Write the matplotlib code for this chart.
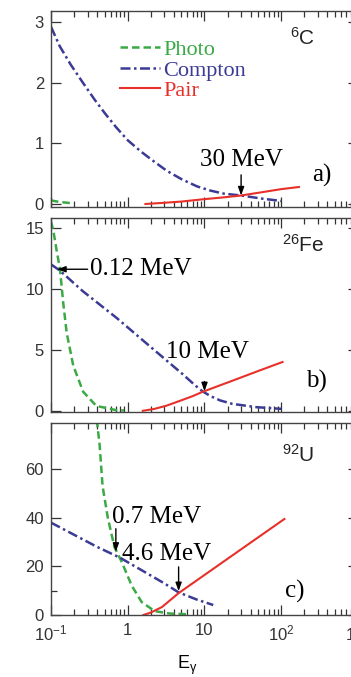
import matplotlib
matplotlib.use('Agg')
import matplotlib.pyplot as plt
import numpy as np
from matplotlib.ticker import LogLocator, NullFormatter, FixedLocator

plt.rcParams['font.family'] = ['Liberation Sans', 'DejaVu Sans']

# cross sections (barn/atom) vs photon energy (MeV)
# carbon
c_photo_e = [0.1, 0.12, 0.15, 0.18]
c_photo_s = [0.06, 0.04, 0.025, 0.015]
c_compton_e = [0.1, 0.13, 0.18, 0.26, 0.37, 0.5, 0.7, 1.0, 1.5, 2.2, 3.2, 5, 8, 12, 18, 30, 55, 100]
c_compton_s = [2.92, 2.6, 2.3, 2.0, 1.72, 1.5, 1.27, 1.05, 0.86, 0.7, 0.55, 0.41, 0.29, 0.22, 0.17, 0.14, 0.09, 0.05]
c_pair_e = [1.7, 3, 5, 10, 18, 30, 60, 100, 170]
c_pair_s = [0, 0.02, 0.04, 0.08, 0.11, 0.14, 0.2, 0.245, 0.28]

# iron
fe_photo_e = [0.1, 0.107, 0.118, 0.131, 0.144, 0.16, 0.195, 0.263, 0.39, 0.71, 0.9]
fe_photo_s = [15.5, 14.8, 13.2, 11.6, 8.9, 6.4, 3.7, 1.55, 0.4, 0.05, 0.03]
fe_compton_e = [0.1, 0.13, 0.26, 0.72, 1.93, 5.2, 7.5, 9.4, 12, 16, 23, 47, 100]
fe_compton_s = [12.0, 11.5, 9.8, 7.6, 5.3, 3.0, 2.1, 1.6, 1.2, 0.85, 0.57, 0.3, 0.16]
fe_pair_e = [1.57, 2.2, 3.2, 5.2, 7.0, 9.4, 23, 50, 104]
fe_pair_s = [0, 0.15, 0.42, 0.9, 1.2, 1.55, 2.46, 3.26, 4.0]

# uranium
u_photo_e = [0.38, 0.43, 0.47, 0.55, 0.67, 0.83, 1.13, 1.52, 2.24, 3.5, 6.0]
u_photo_s = [85, 70, 53, 40, 28, 22, 12, 5.3, 1.6, 0.6, 0.3]
u_compton_e = [0.1, 0.2, 0.4, 0.8, 1.6, 3.0, 4.6, 8.0, 13]
u_compton_s = [38, 33, 28, 23.5, 18, 13, 9.3, 6.3, 4.1]
u_pair_e = [1.6, 2.0, 2.8, 4.6, 14, 38, 110]
u_pair_s = [0, 1.0, 3.3, 9.0, 19.7, 29.3, 39.5]

panels = [
    dict(photo=(c_photo_e, c_photo_s), compton=(c_compton_e, c_compton_s),
         pair=(c_pair_e, c_pair_s), ylim=(-0.05, 3.18), yticks=[0, 1, 2, 3],
         yminor=[], element=r'$\mathregular{^{6}C}$', tag='a)',
         el_pos=(0.82, 0.865), tag_pos=(0.883, 0.163)),
    dict(photo=(fe_photo_e, fe_photo_s), compton=(fe_compton_e, fe_compton_s),
         pair=(fe_pair_e, fe_pair_s), ylim=(-0.1, 15.8), yticks=[0, 5, 10, 15],
         yminor=[], element=r'$\mathregular{^{26}Fe}$', tag='b)',
         el_pos=(0.82, 0.86), tag_pos=(0.865, 0.155)),
    dict(photo=(u_photo_e, u_photo_s), compton=(u_compton_e, u_compton_s),
         pair=(u_pair_e, u_pair_s), ylim=(0, 79), yticks=[0, 20, 40, 60],
         yminor=[10], element=r'$\mathregular{^{92}U}$', tag='c)',
         el_pos=(0.805, 0.833), tag_pos=(0.795, 0.125)),
]

# arrows at the crossing energies: (panel, label, tip, tail, text position, ha)
notes = [
    (0, '30 MeV', (30, 0.14), (30, 0.48), (30, 0.73), 'center'),
    (1, '10 MeV', (10, 1.6), (10, 2.4), (10.9, 4.8), 'center'),
    (1, '0.12 MeV', (0.12, 11.6), (0.30, 11.6), (0.32, 11.6), 'left'),
    (2, '0.7 MeV', (0.7, 26), (0.7, 35.5), (0.62, 40.3), 'left'),
    (2, '4.6 MeV', (4.6, 9.8), (4.6, 19.8), (0.84, 25), 'left'),
]

green = '#3aaa45'
blue = '#3b3b95'
red = '#e8302a'
serif = dict(family='Liberation Serif', size=18)

rects = [(0.1453, 0.6942, 0.8746, 0.2895),
         (0.1453, 0.3914, 0.8746, 0.2866),
         (0.1453, 0.0916, 0.8746, 0.2836)]

fig = plt.figure(figsize=(3.51, 6.77), dpi=100)
axes = []
for i, (p, r) in enumerate(zip(panels, rects)):
    ax = fig.add_axes(r)
    axes.append(ax)
    ax.plot(*p['photo'], color=green, lw=1.8, ls=(0, (3, 1.6)), label='Photo')
    ax.plot(*p['compton'], color=blue, lw=1.8, ls=(0, (4, 1.4, 1, 1.4)), label='Compton')
    ax.plot(*p['pair'], color=red, lw=1.5, label='Pair')

    ax.set_xscale('log')
    ax.set_xlim(0.1, 1000)
    ax.set_ylim(*p['ylim'])
    ax.yaxis.set_major_locator(FixedLocator(p['yticks']))
    ax.yaxis.set_minor_locator(FixedLocator(p['yminor']))
    ax.xaxis.set_major_locator(FixedLocator([0.1, 1, 10, 100, 1000]))
    ax.xaxis.set_minor_locator(LogLocator(subs=np.arange(2, 10)))
    ax.xaxis.set_minor_formatter(NullFormatter())
    ax.tick_params(which='both', direction='in', top=True, right=True,
                   labelsize=12, width=0.9, colors='#333333', pad=5)
    ax.tick_params(which='major', length=7)
    ax.tick_params(which='minor', length=4)
    ax.tick_params(axis='x', pad=6)
    for s in ax.spines.values():
        s.set_linewidth(1.0)
        s.set_color('#444444')

    ax.text(*p['el_pos'], p['element'], transform=ax.transAxes, fontsize=15,
            ha='center', va='center', color='#222222')
    ax.text(*p['tag_pos'], p['tag'], transform=ax.transAxes, ha='center',
            va='center', **serif)

    if i < 2:
        ax.tick_params(axis='x', labelbottom=False)

axes[2].set_xticklabels([r'$\mathregular{10^{-1}}$', '1', '10',
                         r'$\mathregular{10^{2}}$', r'$\mathregular{10^{3}}$'])
axes[2].set_xlabel(r'$\mathregular{E_{γ}}$', fontsize=13)
axes[2].xaxis.set_label_coords(0.443, -0.2)

for k, label, tip, tail, pos, ha in notes:
    ax = axes[k]
    ax.annotate('', xy=tip, xytext=tail,
                arrowprops=dict(arrowstyle='-|>,head_length=0.5,head_width=0.18',
                                color='black', lw=1.0, shrinkA=0, shrinkB=0))
    ax.text(*pos, label, ha=ha, va='center', **serif)

axes[0].legend(loc='upper left', bbox_to_anchor=(0.225, 0.855), frameon=False,
               prop=dict(family='Liberation Serif', size=16), handlelength=1.8,
               handletextpad=0.15, labelspacing=0.0, borderpad=0,
               borderaxespad=0, labelcolor='linecolor')

fig.savefig('out.png', dpi=100)
